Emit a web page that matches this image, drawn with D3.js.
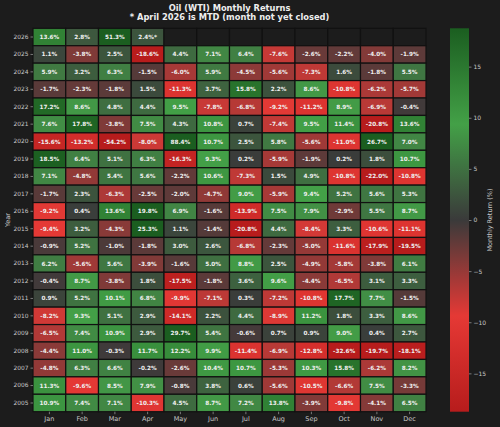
<!DOCTYPE html>
<html><head><meta charset="utf-8">
<script src="https://cdn.jsdelivr.net/npm/d3@7"></script>
<style>
html,body{margin:0;padding:0;background:#1c1c1c;}
svg{display:block;font-family:"DejaVu Sans",sans-serif;}
</style></head>
<body><svg id="chart" width="500" height="427"></svg>
<script>
const months = ["Jan","Feb","Mar","Apr","May","Jun","Jul","Aug","Sep","Oct","Nov","Dec"];
const years = [2026,2025,2024,2023,2022,2021,2020,2019,2018,2017,2016,2015,2014,2013,2012,2011,2010,2009,2008,2007,2006,2005];
const returns = [
 [13.6, 2.8, 51.3, 2.4, null, null, null, null, null, null, null, null],
 [1.1, -3.8, 2.5, -18.6, 4.4, 7.1, 6.4, -7.6, -2.6, -2.2, -4.0, -1.9],
 [5.9, 3.2, 6.3, -1.5, -6.0, 5.9, -4.5, -5.6, -7.3, 1.6, -1.8, 5.5],
 [-1.7, -2.3, -1.8, 1.5, -11.3, 3.7, 15.8, 2.2, 8.6, -10.8, -6.2, -5.7],
 [17.2, 8.6, 4.8, 4.4, 9.5, -7.8, -6.8, -9.2, -11.2, 8.9, -6.9, -0.4],
 [7.6, 17.8, -3.8, 7.5, 4.3, 10.8, 0.7, -7.4, 9.5, 11.4, -20.8, 13.6],
 [-15.6, -13.2, -54.2, -8.0, 88.4, 10.7, 2.5, 5.8, -5.6, -11.0, 26.7, 7.0],
 [18.5, 6.4, 5.1, 6.3, -16.3, 9.3, 0.2, -5.9, -1.9, 0.2, 1.8, 10.7],
 [7.1, -4.8, 5.4, 5.6, -2.2, 10.6, -7.3, 1.5, 4.9, -10.8, -22.0, -10.8],
 [-1.7, 2.3, -6.3, -2.5, -2.0, -4.7, 9.0, -5.9, 9.4, 5.2, 5.6, 5.3],
 [-9.2, 0.4, 13.6, 19.8, 6.9, -1.6, -13.9, 7.5, 7.9, -2.9, 5.5, 8.7],
 [-9.4, 3.2, -4.3, 25.3, 1.1, -1.4, -20.8, 4.4, -8.4, 3.3, -10.6, -11.1],
 [-0.9, 5.2, -1.0, -1.8, 3.0, 2.6, -6.8, -2.3, -5.0, -11.6, -17.9, -19.5],
 [6.2, -5.6, 5.6, -3.9, -1.6, 5.0, 8.8, 2.5, -4.9, -5.8, -3.8, 6.1],
 [-0.4, 8.7, -3.8, 1.8, -17.5, -1.8, 3.6, 9.6, -4.4, -6.5, 3.1, 3.3],
 [0.9, 5.2, 10.1, 6.8, -9.9, -7.1, 0.3, -7.2, -10.8, 17.7, 7.7, -1.5],
 [-8.2, 9.3, 5.1, 2.9, -14.1, 2.2, 4.4, -8.9, 11.2, 1.8, 3.3, 8.6],
 [-6.5, 7.4, 10.9, 2.9, 29.7, 5.4, -0.6, 0.7, 0.9, 9.0, 0.4, 2.7],
 [-4.4, 11.0, -0.3, 11.7, 12.2, 9.9, -11.4, -6.9, -12.8, -32.6, -19.7, -18.1],
 [-4.8, 6.3, 6.6, -0.2, -2.6, 10.4, 10.7, -5.3, 10.3, 15.8, -6.2, 8.2],
 [11.3, -9.6, 8.5, 7.9, -0.8, 3.8, 0.6, -5.6, -10.5, -6.6, 7.5, -3.3],
 [10.9, 7.4, 7.1, -10.3, 4.5, 8.7, 7.2, 13.8, -3.9, -9.8, -4.1, 6.5]
];
const mtdLabel = {year: 2026, month: "Apr"};
const colorTicks = [15, 10, 5, 0, -5, -10, -15];
const titleLines = ["Oil (WTI) Monthly Returns", "* April 2026 is MTD (month not yet closed)"];

const svg = d3.select("#chart");
const L = 33, R = 426, T = 28.3, B = 411.7;
const x = d3.scaleBand().domain(months).range([L, R]).padding(0);
const y = d3.scaleBand().domain(years).range([T, B]).padding(0);
const vmax = 18.75;
const color = d3.scaleLinear()
  .domain([-vmax, -vmax/2, 0, vmax/2, vmax])
  .range(["#b71c1c", "#e53935", "#3a3a3a", "#43a047", "#1b5e20"])
  .interpolate(d3.interpolateRgb).clamp(true);

svg.append("rect").attr("x", L).attr("y", T).attr("width", R-L).attr("height", B-T).attr("fill", "#1c1c1c");

const cells = [];
years.forEach((yr, i) => months.forEach((m, j) => cells.push({yr, m, v: returns[i][j]})));

const g = svg.append("g");
g.selectAll("rect.cell").data(cells).join("rect")
  .attr("class", "cell")
  .attr("x", d => x(d.m)).attr("y", d => y(d.yr))
  .attr("width", x.bandwidth()).attr("height", y.bandwidth())
  .attr("fill", d => d.v === null ? "#1c1c1c" : color(d.v))
  .attr("stroke", "#111").attr("stroke-width", 1.2);

g.selectAll("text.val").data(cells.filter(d => d.v !== null)).join("text")
  .attr("class", "val")
  .attr("x", d => x(d.m) + x.bandwidth()/2)
  .attr("y", d => y(d.yr) + y.bandwidth()/2)
  .attr("dy", "0.35em")
  .attr("text-anchor", "middle")
  .attr("font-size", 5.7).attr("font-weight", "bold")
  .attr("fill", "#f0f0f0")
  .text(d => d.v.toFixed(1) + "%" + (d.yr === mtdLabel.year && d.m === mtdLabel.month ? "*" : ""));

const yAxis = svg.append("g").attr("transform", `translate(${L},0)`)
  .call(d3.axisLeft(y).tickSize(2.5).tickPadding(2));
const xAxis = svg.append("g").attr("transform", `translate(0,${B})`)
  .call(d3.axisBottom(x).tickSize(2.5).tickPadding(2));
[yAxis, xAxis].forEach(a => {
  a.select(".domain").remove();
  a.selectAll("line").attr("stroke", "#bbb").attr("stroke-width", 0.6);
  a.selectAll("text").attr("fill", "#c8c8c8").attr("font-family", "DejaVu Sans");
});
yAxis.selectAll("text").attr("font-size", 5.9);
xAxis.selectAll("text").attr("font-size", 6.5);

svg.append("text").attr("transform", `translate(7.5,${(T+B)/2}) rotate(-90)`)
  .attr("text-anchor", "middle").attr("dy", "0.35em")
  .attr("fill", "#c8c8c8").attr("font-size", 6.5).text("Year");

svg.append("text").attr("x", (L+R)/2).attr("y", 10.5).attr("text-anchor", "middle")
  .attr("fill", "#eeeeee").attr("font-size", 8.3).attr("font-weight", "bold").text(titleLines[0]);
svg.append("text").attr("x", (L+R)/2).attr("y", 19.5).attr("text-anchor", "middle")
  .attr("fill", "#eeeeee").attr("font-size", 8.3).attr("font-weight", "bold").text(titleLines[1]);

const cbX = 450, cbW = 19;
const cy = d3.scaleLinear().domain([-vmax, vmax]).range([B, T]);
const defs = svg.append("defs");
const grad = defs.append("linearGradient").attr("id", "cbgrad")
  .attr("x1", 0).attr("y1", 1).attr("x2", 0).attr("y2", 0);
d3.range(0, 1.0001, 0.05).forEach(t => {
  grad.append("stop").attr("offset", t).attr("stop-color", color(-vmax + 2*vmax*t));
});
svg.append("rect").attr("x", cbX).attr("y", T).attr("width", cbW).attr("height", B-T)
  .attr("fill", "url(#cbgrad)");
const cAxis = svg.append("g").attr("transform", `translate(${cbX+cbW},0)`)
  .call(d3.axisRight(cy).tickValues(colorTicks).tickSize(2.5).tickPadding(2)
    .tickFormat(d => d < 0 ? "\u2212" + Math.abs(d) : d));
cAxis.select(".domain").remove();
cAxis.selectAll("line").attr("stroke", "#bbb").attr("stroke-width", 0.6);
cAxis.selectAll("text").attr("fill", "#c8c8c8").attr("font-size", 6).attr("font-family", "DejaVu Sans");

svg.append("text").attr("transform", `translate(490,${(T+B)/2}) rotate(-90)`)
  .attr("text-anchor", "middle").attr("dy", "0.35em")
  .attr("fill", "#c8c8c8").attr("font-size", 6.5).text("Monthly Return (%)");
</script></body></html>
